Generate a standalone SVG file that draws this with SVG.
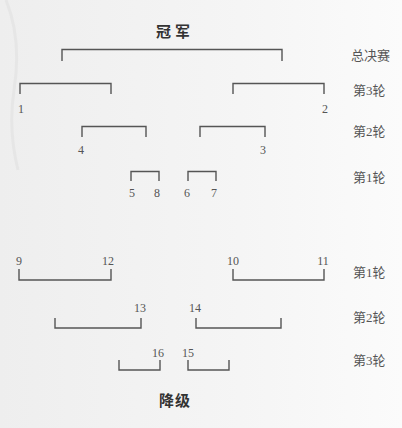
<svg xmlns="http://www.w3.org/2000/svg" width="402" height="428" viewBox="0 0 402 428">
<defs>
<linearGradient id="bg" x1="0" y1="0" x2="1" y2="0">
<stop offset="0" stop-color="#eeeeee"/>
<stop offset="0.6" stop-color="#f5f5f5"/>
<stop offset="1" stop-color="#fbfbfb"/>
</linearGradient>
</defs>
<style>
.br{fill:none;stroke:#555;stroke-width:1.4}
.num{font-family:"Liberation Serif","Noto Sans CJK SC",serif;font-size:12px;fill:#555;text-anchor:middle}
.rnd{font-family:"Liberation Serif","Noto Sans CJK SC",serif;font-size:13px;fill:#555}
.ttl{font-family:"Noto Sans CJK SC",sans-serif;font-size:15px;font-weight:bold;fill:#333;text-anchor:middle}
</style>
<rect width="402" height="428" fill="url(#bg)"/>
<path d="M6 0 Q22 40 14 90 Q8 130 18 170" fill="none" stroke="#e6e6e6" stroke-width="3"/>
<g id="connectors">
<path class="br" d="M62 61 V49.5 H282 V61"/>
<path class="br" d="M20 94 V83.5 H111 V94"/>
<path class="br" d="M233 94 V83.5 H324 V94"/>
<path class="br" d="M82 137 V126.5 H146 V137"/>
<path class="br" d="M200 137 V126.5 H265 V137"/>
<path class="br" d="M131 181 V171.5 H159 V181"/>
<path class="br" d="M188 181 V171.5 H216 V181"/>
<path class="br" d="M19 269 V280 H111 V269"/>
<path class="br" d="M233 269 V280 H324 V269"/>
<path class="br" d="M55 318 V328 H141 V318"/>
<path class="br" d="M196 318 V328 H281 V318"/>
<path class="br" d="M119 360 V370 H160 V360"/>
<path class="br" d="M188 360 V370 H229 V360"/>
</g>
<g id="champion"><text class="ttl" x="175" y="37" letter-spacing="4">冠军</text></g>
<g id="relegation"><text class="ttl" x="175" y="406" letter-spacing="1">降级</text></g>
<g id="team1"><text class="num" x="21" y="113">1</text></g>
<g id="team2"><text class="num" x="325" y="113">2</text></g>
<g id="team4"><text class="num" x="81" y="154">4</text></g>
<g id="team3"><text class="num" x="263" y="154">3</text></g>
<g id="team5"><text class="num" x="132" y="197">5</text></g>
<g id="team8"><text class="num" x="157" y="197">8</text></g>
<g id="team6"><text class="num" x="187" y="197">6</text></g>
<g id="team7"><text class="num" x="214" y="197">7</text></g>
<g id="team9"><text class="num" x="19" y="265">9</text></g>
<g id="team12"><text class="num" x="108" y="265">12</text></g>
<g id="team10"><text class="num" x="233" y="265">10</text></g>
<g id="team11"><text class="num" x="323" y="265">11</text></g>
<g id="team13"><text class="num" x="140" y="312">13</text></g>
<g id="team14"><text class="num" x="195" y="312">14</text></g>
<g id="team16"><text class="num" x="158" y="357">16</text></g>
<g id="team15"><text class="num" x="188" y="357">15</text></g>
<g id="rounds">
<text class="rnd" x="351" y="60">总决赛</text>
<text class="rnd" x="353" y="95">第3轮</text>
<text class="rnd" x="353" y="136">第2轮</text>
<text class="rnd" x="353" y="182">第1轮</text>
<text class="rnd" x="353" y="277">第1轮</text>
<text class="rnd" x="353" y="322">第2轮</text>
<text class="rnd" x="353" y="365">第3轮</text>
</g>
</svg>
